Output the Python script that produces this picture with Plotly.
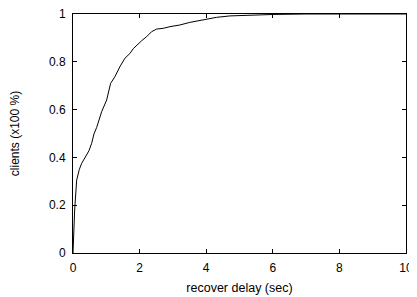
import plotly.graph_objects as go

delay_sec = [0, 0.05, 0.11, 0.19, 0.26, 0.39, 0.48, 0.56, 0.63, 0.71, 0.86, 1.01, 1.13, 1.26,
             1.41, 1.56, 1.71, 1.81, 1.96, 2.06, 2.21, 2.36, 2.51, 2.71, 2.91, 3.21, 3.51,
             3.91, 4.31, 4.71, 5.31, 6.0, 7.0, 8.0, 9.0, 10.0]
clients_frac = [0, 0.18, 0.305, 0.35, 0.375, 0.406, 0.428, 0.459, 0.498, 0.525, 0.591, 0.64,
                0.71, 0.738, 0.78, 0.815, 0.835, 0.855, 0.877, 0.888, 0.905, 0.926, 0.937,
                0.94, 0.947, 0.954, 0.965, 0.977, 0.986, 0.992, 0.996, 0.998, 1.0, 1.0, 1.0, 1.0]

x_ticks = [0, 2, 4, 6, 8, 10]
y_ticks = [0, 0.2, 0.4, 0.6, 0.8, 1]
y_tick_labels = ["0", "0.2", "0.4", "0.6", "0.8", "1"]

FONT = "Liberation Sans, Arial, Helvetica"

fig = go.Figure()
fig.add_trace(go.Scatter(x=delay_sec, y=clients_frac, mode="lines",
                         line=dict(color="black", width=1), showlegend=False))

axis_common = dict(showline=True, linecolor="black", linewidth=1, mirror="allticks",
                   ticks="inside", ticklen=4, tickcolor="black", showgrid=False,
                   zeroline=False, automargin=False, ticklabeloverflow="allow",
                   tickfont=dict(family=FONT, size=12, color="black"))

# page body has an 8px default margin, so the figure is 8px smaller than the window
fig.update_layout(
    width=409, height=289,
    margin=dict(l=65, r=11, t=6, b=44),
    paper_bgcolor="white", plot_bgcolor="white",
    font=dict(family=FONT, size=12, color="black"),
    xaxis=dict(range=[0, 10], tickvals=x_ticks, ticktext=[str(v) for v in x_ticks],
               ticklabelstandoff=4,
               title=dict(text="recover delay (sec)", standoff=8, font=dict(size=12.5)), **axis_common),
    yaxis=dict(range=[0, 1], tickvals=y_ticks, ticktext=y_tick_labels,
               ticklabelstandoff=4,
               title=dict(text="clients (x100 %)", standoff=29, font=dict(size=12)), **axis_common),
)

fig.write_html("out.html")
